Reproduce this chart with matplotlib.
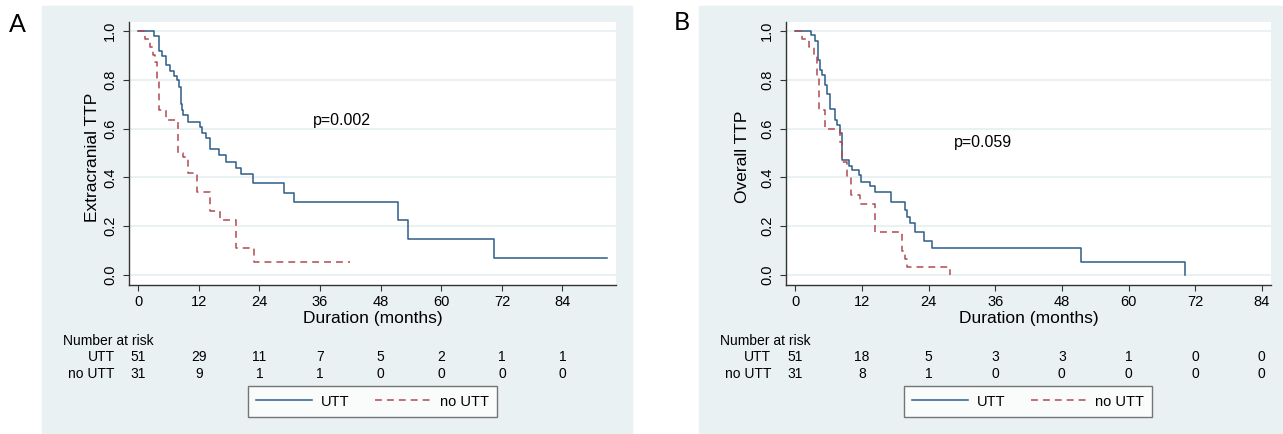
import matplotlib.pyplot as plt
import matplotlib.transforms as mtransforms
from matplotlib.patches import Rectangle
from matplotlib.lines import Line2D

plt.rcParams['font.family'] = ['Liberation Sans', 'DejaVu Sans']

# Panel A - extracranial TTP (Kaplan-Meier steps)
a_utt_t = [0, 3.1, 4.1, 4.75, 5.5, 6.3, 7.1, 7.7, 8.1, 8.4, 8.7, 8.9, 9.8, 12.2, 12.7,
           13.5, 14.2, 16.0, 17.4, 19.3, 20.4, 22.8, 28.9, 30.8, 51.5, 53.5, 70.5, 92.9]
a_utt_s = [1.0, 0.981, 0.919, 0.899, 0.859, 0.837, 0.817, 0.80, 0.772, 0.70, 0.676, 0.656,
           0.627, 0.605, 0.583, 0.56, 0.516, 0.492, 0.464, 0.44, 0.413, 0.376, 0.337, 0.30,
           0.224, 0.146, 0.071, 0.071]
a_no_t = [0, 1.3, 2.3, 3.0, 3.3, 3.7, 4.1, 5.4, 7.9, 8.9, 9.9, 11.7, 14.2, 16.2, 19.3, 23.0, 41.9]
a_no_s = [1.0, 0.968, 0.935, 0.903, 0.871, 0.806, 0.677, 0.635, 0.50, 0.484, 0.419, 0.339,
          0.262, 0.225, 0.109, 0.052, 0.052]
a_risk_utt = [51, 29, 11, 7, 5, 2, 1, 1]
a_risk_no = [31, 9, 1, 1, 0, 0, 0, 0]

# Panel B - overall TTP
b_utt_t = [0, 2.9, 3.6, 4.1, 4.5, 4.9, 5.3, 5.7, 6.2, 7.1, 7.5, 8.0, 8.4, 9.6, 10.2, 11.4,
           11.8, 13.4, 14.4, 17.3, 19.7, 20.1, 20.6, 21.5, 23.1, 24.7, 51.4, 70.2]
b_utt_s = [1.0, 0.984, 0.96, 0.88, 0.84, 0.82, 0.78, 0.74, 0.68, 0.635, 0.615, 0.58, 0.47,
           0.448, 0.43, 0.41, 0.383, 0.366, 0.342, 0.298, 0.266, 0.239, 0.212, 0.175, 0.141,
           0.109, 0.052, 0.0]
b_no_t = [0, 1.2, 2.4, 3.3, 3.9, 4.3, 5.4, 8.1, 8.5, 9.3, 10.0, 11.7, 14.3, 19.2, 19.8, 20.1, 27.8]
b_no_s = [1.0, 0.968, 0.935, 0.903, 0.806, 0.677, 0.60, 0.546, 0.464, 0.403, 0.328, 0.29,
          0.178, 0.10, 0.065, 0.031, 0.0]
b_risk_utt = [51, 18, 5, 3, 3, 1, 0, 0]
b_risk_no = [31, 8, 1, 0, 0, 0, 0, 0]

x_ticks = [0, 12, 24, 36, 48, 60, 72, 84]
y_ticks = [0.0, 0.2, 0.4, 0.6, 0.8, 1.0]
groups = ['UTT', 'no UTT']

W, H = 1283, 434
BG = '#EAF1F3'
BLUE = '#2E5C87'
RED = '#B04A52'
DARK = '#333333'


def fx(p):
    return p / W


def fy(p):
    return 1 - p / H


fig = plt.figure(figsize=(W / 100, H / 100), dpi=100)
fig.patch.set_facecolor('white')


def panel(letter, letter_xy, bg_x, ax_x, xlim, utt, no, risk_utt, risk_no, ylabel,
          ylab_x, ptext, p_xy, nar_x, row_x):
    fig.add_artist(Rectangle((fx(bg_x[0]), 0), fx(bg_x[1] - bg_x[0]), fy(6),
                             transform=fig.transFigure, color=BG, zorder=-5))
    ax = fig.add_axes([fx(ax_x[0]), fy(285), fx(ax_x[1] - ax_x[0]), (285 - 21.7) / H])
    ax.set_facecolor('white')
    ax.step(utt[0], utt[1], where='post', color=BLUE, lw=1.1)
    ax.step(no[0], no[1], where='post', color=RED, lw=1.1, dashes=(4.5, 3.3))
    ax.set_xlim(*xlim)
    ax.set_ylim(-0.041, 1.038)
    ax.set_xticks(x_ticks)
    ax.set_yticks(y_ticks)
    ax.set_yticklabels([f'{v:.1f}' for v in y_ticks])
    ax.yaxis.grid(True, color='#EAF1F3', lw=1.5)
    ax.set_axisbelow(True)
    for s in ['top', 'right']:
        ax.spines[s].set_visible(False)
    for s in ['left', 'bottom']:
        ax.spines[s].set_color(DARK)
        ax.spines[s].set_linewidth(1.0)
    ax.tick_params(axis='both', length=4.5, width=0.8, color=DARK, labelsize=10.5,
                   labelcolor='black', pad=3)
    ax.tick_params(axis='y', labelrotation=90, pad=4)
    for lab in ax.get_yticklabels():
        lab.set_va('center')
    ax.set_xlabel('Duration (months)', fontsize=12.5)
    ax.xaxis.set_label_coords(0.5, (285 - 319) / 263.3)
    ax.xaxis.label.set_va('center')
    ax.set_ylabel(ylabel, fontsize=12.5)
    ax.yaxis.set_label_coords(ylab_x, 0.485)
    ax.yaxis.label.set_va('center')
    ax.text(p_xy[0], p_xy[1], ptext, fontsize=11.5, ha='left', va='center')

    # number at risk table
    tr = mtransforms.blended_transform_factory(ax.transData, fig.transFigure)
    fig.text(fx(nar_x), fy(340.7), 'Number at risk', fontsize=10, ha='left', va='center')
    for row_y, name, vals in [(357.3, groups[0], risk_utt), (374.3, groups[1], risk_no)]:
        fig.text(fx(row_x), fy(row_y), name, fontsize=10, ha='right', va='center')
        for xv, n in zip(x_ticks, vals):
            ax.text(xv, fy(row_y), str(n), transform=tr, fontsize=10,
                    ha='center', va='center', clip_on=False)

    handles = [Line2D([], [], color=BLUE, lw=1.1),
               Line2D([], [], color=RED, lw=1.1, dashes=(4.5, 3.3))]
    cx = fx((ax_x[0] + ax_x[1]) / 2)
    leg = ax.legend(handles, groups, loc='center', bbox_to_anchor=(cx, fy(401.5)),
                    bbox_transform=fig.transFigure, ncol=2, frameon=True, fancybox=False,
                    fontsize=10.5, handlelength=3.8, handletextpad=0.65, columnspacing=1.7,
                    borderpad=0.55, borderaxespad=0)
    leg.get_frame().set_edgecolor('#555555')
    leg.get_frame().set_linewidth(1.0)

    fig.text(fx(letter_xy[0]), fy(letter_xy[1]), letter, fontsize=18, family='Lato',
             ha='center', va='center')
    return ax


panel('A', (17, 24), (42, 632), (129, 616), (-1.84, 94.6), (a_utt_t, a_utt_s),
      (a_no_t, a_no_s), a_risk_utt, a_risk_no, 'Extracranial TTP', -0.075,
      'p=0.002', (34.5, 0.635), 63, 115)
panel('B', (682, 22), (699, 1283), (786, 1270.7), (-1.67, 85.6), (b_utt_t, b_utt_s),
      (b_no_t, b_no_s), b_risk_utt, b_risk_no, 'Overall TTP', -0.0897,
      'p=0.059', (28.5, 0.542), 720, 771)

fig.savefig('out.png', dpi=100)
